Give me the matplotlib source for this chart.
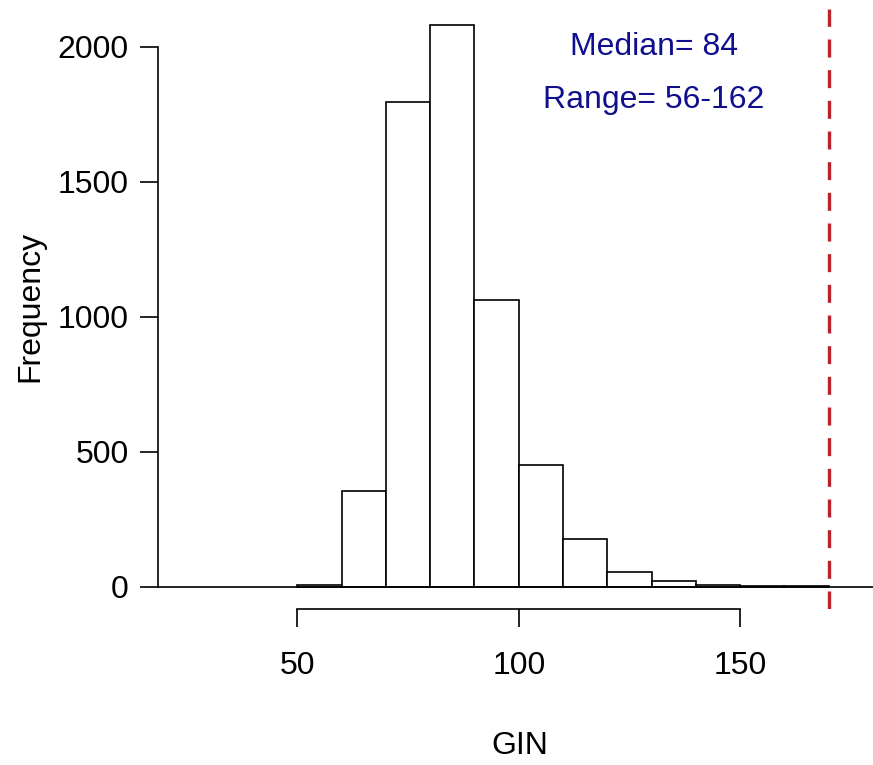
import numpy as np
import matplotlib.pyplot as plt

plt.rcParams['font.family'] = ['Liberation Sans', 'DejaVu Sans']

# histogram bins (GIN) and counts
bin_edges = np.arange(50, 171, 10)
counts = [5, 353, 1796, 2081, 1061, 452, 178, 53, 19, 6, 1, 1]
median_val = 84
range_lo, range_hi = 56, 162
cutoff = 170

fig = plt.figure(figsize=(8.73, 7.65), dpi=100)
ax = fig.add_axes([158 / 873, 156 / 765, 1 - 158 / 873 + 0.01, (762 - 156) / 765])

ax.bar(bin_edges[:-1], counts, width=10, align='edge', color='white',
       edgecolor='black', linewidth=1.2)
ax.axhline(0, color='black', linewidth=1.2)
ax.axvline(cutoff, ymax=0.99, color='#B8222A', linewidth=2.4, dashes=(5.4, 3.8))

ax.text(0.685, 0.927, f"Median= {median_val}", transform=ax.transAxes,
        ha='center', va='center', fontsize=23, color='#10108F')
ax.text(0.685, 0.84, f"Range= {range_lo}-{range_hi}", transform=ax.transAxes,
        ha='center', va='center', fontsize=23, color='#10108F')

ax.set_xlim(18.5, 182)
ax.set_ylim(-83, 2163)

for s in ['top', 'right']:
    ax.spines[s].set_visible(False)
ax.spines['left'].set_bounds(0, 2000)
ax.spines['bottom'].set_bounds(50, 150)
ax.spines['left'].set_linewidth(1.2)
ax.spines['bottom'].set_linewidth(1.2)

ax.set_xticks([50, 100, 150])
ax.set_yticks([0, 500, 1000, 1500, 2000])
ax.tick_params(axis='both', length=13, width=1.2, labelsize=23)
ax.tick_params(axis='x', pad=17)
ax.tick_params(axis='y', pad=8)

ax.set_xlabel("GIN", fontsize=23, labelpad=36)
ax.set_ylabel("Frequency", fontsize=23, labelpad=9)

fig.savefig("out.png", dpi=100)
